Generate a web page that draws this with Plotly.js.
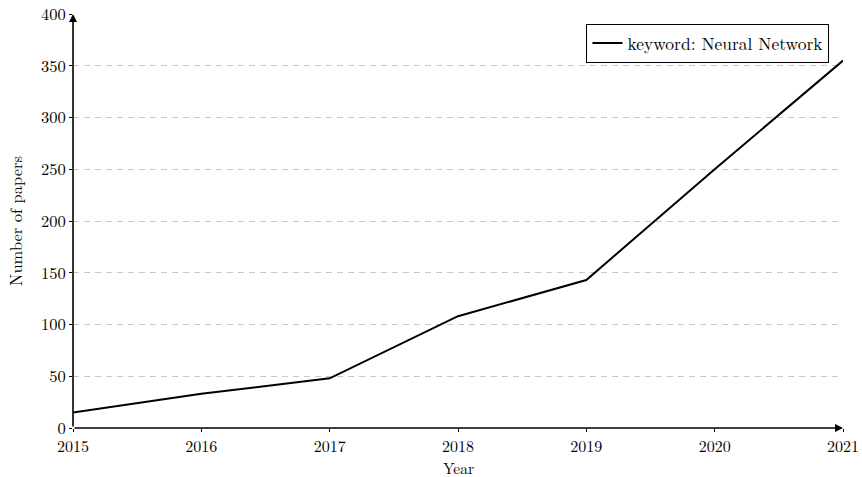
<!DOCTYPE html>
<html>
<head>
<meta charset="utf-8">
<script src="https://cdn.plot.ly/plotly-3.0.1.min.js"></script>
<style>html,body{margin:0;padding:0;background:#fff;}#chart{width:862px;height:477px;}</style>
</head>
<body>
<div id="chart"></div>
<script>
const years = [2015, 2016, 2017, 2018, 2019, 2020, 2021];
const papers = [15, 33, 48, 108, 143, 250, 355];
const seriesName = 'keyword: Neural Network';
const yTicks = [0, 50, 100, 150, 200, 250, 300, 350, 400];
const xTitle = 'Year';
const yTitle = 'Number of papers';

const FONT = 'Latin Modern Roman, CMU Serif, Liberation Serif, DejaVu Serif, serif';

const trace = {
  x: years, y: papers, type: 'scatter', mode: 'lines', name: seriesName,
  line: {color: '#000', width: 2}, showlegend: true
};

const layout = {
  width: 862, height: 477,
  margin: {l: 73, r: 19, t: 14, b: 49},
  paper_bgcolor: '#fff', plot_bgcolor: '#fff',
  font: {family: FONT, size: 16, color: '#000'},
  showlegend: true,
  legend: {
    x: 0.982, y: 0.976, xanchor: 'right', yanchor: 'top',
    bordercolor: '#000', borderwidth: 1.3, bgcolor: '#fff',
    font: {family: FONT, size: 17.5, color: '#000'},
    itemwidth: 30, tracegroupgap: 0
  },
  xaxis: {
    range: [2015, 2021], tickvals: years, ticktext: years.map(String),
    ticks: 'outside', ticklen: 3, tickcolor: '#000', showgrid: false,
    zeroline: false, showline: false, ticklabelstandoff: 1,
    tickfont: {family: FONT, size: 16}
  },
  yaxis: {
    range: [0, 400], tickvals: yTicks, ticktext: yTicks.map(String),
    ticks: 'outside', ticklen: 3, tickcolor: '#000',
    showgrid: true, gridcolor: '#c8c8c8', griddash: '6px,5px', gridwidth: 1,
    zeroline: false, showline: false,
    title: {text: yTitle, font: {family: FONT, size: 16.5}, standoff: 14},
    tickfont: {family: FONT, size: 16.5}
  },
  annotations: [
    {x: 0.5, y: -0.096, xref: 'paper', yref: 'paper', xanchor: 'center', yanchor: 'middle',
     showarrow: false, text: xTitle, font: {family: FONT, size: 15.5}, borderpad: 0},
    {x: 2021, y: 0, ax: 2015, ay: 0, xref: 'x', yref: 'y', axref: 'x', ayref: 'y',
     showarrow: true, arrowhead: 2, arrowsize: 1, arrowwidth: 1.6, arrowcolor: '#000', text: ''},
    {x: 2015, y: 400, ax: 2015, ay: 0, xref: 'x', yref: 'y', axref: 'x', ayref: 'y',
     showarrow: true, arrowhead: 2, arrowsize: 1, arrowwidth: 1.6, arrowcolor: '#000', text: ''}
  ]
};

Plotly.newPlot('chart', [trace], layout, {displayModeBar: false, staticPlot: true});
</script>
</body>
</html>
